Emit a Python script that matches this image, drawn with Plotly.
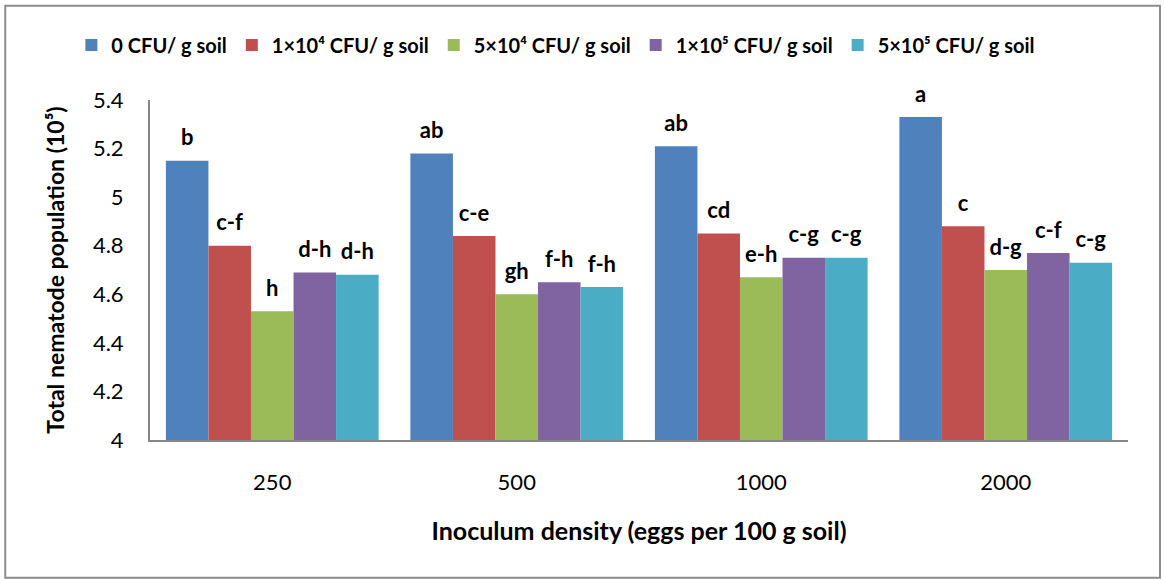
import plotly.graph_objects as go

categories = ["250", "500", "1000", "2000"]
series_names = ["0 CFU/ g soil", "1×10⁴ CFU/ g soil", "5×10⁴ CFU/ g soil",
                "1×10⁵ CFU/ g soil", "5×10⁵ CFU/ g soil"]
colors = ["#4F81BD", "#C0504D", "#9BBB59", "#8064A2", "#4BACC6"]

v0 = [5.15, 5.18, 5.21, 5.33]
v1 = [4.80, 4.84, 4.85, 4.88]
v2 = [4.53, 4.60, 4.67, 4.70]
v3 = [4.69, 4.65, 4.75, 4.77]
v4 = [4.68, 4.63, 4.75, 4.73]
values = [v0, v1, v2, v3, v4]

l0 = ["b", "ab", "ab", "a"]
l1 = ["c-f", "c-e", "cd", "c"]
l2 = ["h", "gh", "e-h", "d-g"]
l3 = ["d-h", "f-h", "c-g", "c-f"]
l4 = ["d-h", "f-h", "c-g", "c-g"]
letters = [l0, l1, l2, l3, l4]

y_ticks = [4, 4.2, 4.4, 4.6, 4.8, 5, 5.2, 5.4]
y_tick_text = ["4", "4.2", "4.4", "4.6", "4.8", "5", "5.2", "5.4"]

FONT = "Lato"
fig = go.Figure()
for name, col, vals, lab in zip(series_names, colors, values, letters):
    fig.add_trace(go.Bar(
        x=categories, y=vals, name=name,
        marker=dict(color=col, line=dict(width=0)),
        text=[f"<span style='font-size:22px'><b>{t}</b></span><br> " for t in lab],
        textposition="outside", cliponaxis=False, constraintext="none",
        textfont=dict(family=FONT, size=8, color="black"),
    ))

fig.update_layout(
    width=1165, height=579,
    paper_bgcolor="white", plot_bgcolor="white",
    barmode="group", bargap=0.13, bargroupgap=0,
    margin=dict(l=150, r=37, t=100, b=139, autoexpand=False),
    legend=dict(orientation="h", x=0.415, xanchor="center", y=1.162, yanchor="middle",
                font=dict(family=FONT, size=20, color="black", weight="bold"),
                bgcolor="rgba(0,0,0,0)", itemwidth=30, traceorder="normal",
                tracegroupgap=0),
    xaxis=dict(type="category", showline=True, linecolor="#868686", linewidth=2,
               ticks="", tickfont=dict(family=FONT, size=22, color="black"),
               ticklabelstandoff=22,
               title=dict(text="<b>Inoculum density (eggs per 100 g soil)</b>",
                          font=dict(family=FONT, size=25, color="black"), standoff=28)),
    yaxis=dict(range=[4, 5.4], tickvals=y_ticks, ticktext=y_tick_text,
               showline=True, linecolor="#868686", linewidth=2, showgrid=False,
               zeroline=False, ticks="",
               tickfont=dict(family=FONT, size=22, color="black"), ticklabelstandoff=20,
               title=dict(text="<b>Total nematode population (10⁵)</b>",
                          font=dict(family=FONT, size=23, color="black"), standoff=22)),
    showlegend=True,
)
fig.add_shape(type="rect", xref="paper", yref="paper",
              x0=-0.148, x1=1.0327, y0=-0.405, y1=1.277,
              line=dict(color="#8c8c8c", width=2), fillcolor="rgba(0,0,0,0)", layer="below")

fig.write_html("out.html", config={"displayModeBar": False},
               post_script="document.body.style.margin='0';document.body.style.overflow='hidden';")
